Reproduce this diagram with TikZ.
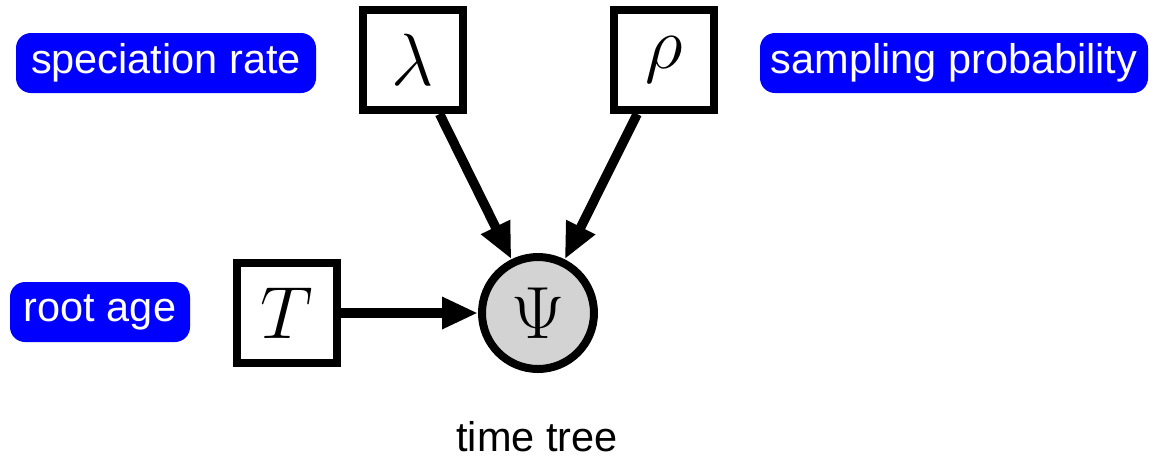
\RequirePackage{fix-cm}
\documentclass[tikz,border=0pt]{standalone}
\usepackage{fontspec}
\setmainfont{Liberation Sans}
\usetikzlibrary{arrows.meta}
\definecolor{nodegray}{RGB}{211,211,211}
\begin{document}
\begin{tikzpicture}[x=1pt,y=-1pt,
  lbl/.style={fill=blue, text=white, rounded corners=15pt, inner sep=0pt,
    minimum height=60pt, font=\fontsize{41.5}{41.5}\selectfont},
  param/.style={draw, line width=8pt, fill=white, minimum size=100pt, inner sep=0pt,
    font=\fontsize{74}{74}\selectfont},
  obs/.style={circle, draw, line width=8pt, fill=nodegray, minimum size=112pt, inner sep=0pt,
    font=\fontsize{74}{74}\selectfont},
  edge/.style={line width=9.5pt, -{Triangle[length=36pt,width=30pt]}}]
\useasboundingbox (0,0) rectangle (1160,459);
\node[lbl, minimum width=300pt] (lsp) at (166,63) {speciation rate};
\node[lbl, minimum width=388pt] (lsa) at (954,63) {sampling probability};
\node[lbl, minimum width=180pt] (lra) at (100,312) {root age};
\node[param] (lam) at (413,60) {$\lambda$};
\node[param] (rho) at (664,60) {$\rho$};
\node[param] (T) at (287,313) {$T$};
\node[obs] (psi) at (538,313) {$\Psi$};
\node[font=\fontsize{41.5}{41.5}\selectfont, anchor=base, inner sep=0pt] (tt) at (537,451) {time tree};
\draw[edge] (lam) -- (psi);
\draw[edge] (rho) -- (psi);
\draw[edge] (T) -- (psi);
\end{tikzpicture}
\end{document}
